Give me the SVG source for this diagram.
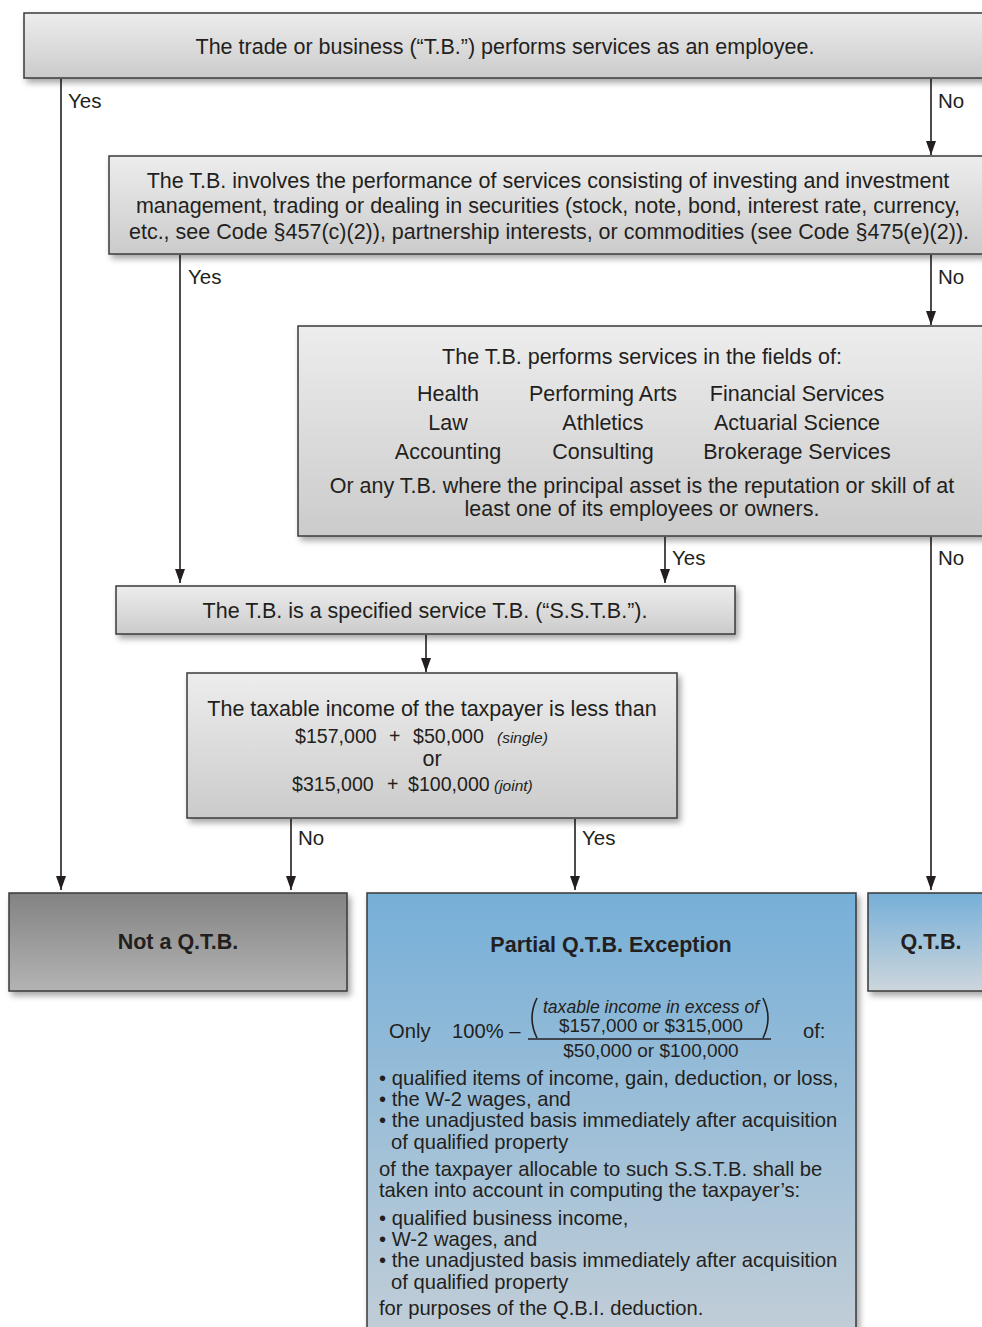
<svg xmlns="http://www.w3.org/2000/svg" width="982" height="1327" viewBox="0 0 982 1327">
<defs>
<linearGradient id="gGray" x1="0" y1="0" x2="0" y2="1"><stop offset="0" stop-color="#ededed"/><stop offset="1" stop-color="#cbcbcb"/></linearGradient>
<linearGradient id="gDark" x1="0" y1="0" x2="0" y2="1"><stop offset="0" stop-color="#838383"/><stop offset="1" stop-color="#b4b4b4"/></linearGradient>
<linearGradient id="gBlue" x1="0" y1="0" x2="0" y2="1"><stop offset="0" stop-color="#76afd8"/><stop offset="1" stop-color="#c3ced7"/></linearGradient>
<linearGradient id="gBlueL" x1="0" y1="0" x2="0" y2="1"><stop offset="0" stop-color="#76afd8"/><stop offset="1" stop-color="#cdd6dc"/></linearGradient>
<filter id="sh" x="-10%" y="-10%" width="130%" height="140%"><feDropShadow dx="3" dy="4" stdDeviation="3" flood-color="#000" flood-opacity="0.35"/></filter>
<marker id="ah" viewBox="0 0 14 10" refX="14" refY="5" markerWidth="14" markerHeight="10" markerUnits="userSpaceOnUse" orient="auto"><path d="M0,0 L14,5 L0,10 Z" fill="#231f20"/></marker>
<style>
text{font-family:"Liberation Sans",Arial,sans-serif;fill:#231f20}
.t{font-size:21.5px}
.n{font-size:19.6px}
.l{font-size:20.5px}
.m{text-anchor:middle}
.b{font-weight:bold}
.s{font-size:20.2px}
.i{font-style:italic;font-size:15.5px}
.box{stroke:#3a3a3a;stroke-width:1.5;filter:url(#sh)}
.cn{stroke:#231f20;stroke-width:1.6;fill:none}
</style>
</defs>
<rect width="982" height="1327" fill="#fff"/>
<g id="connectors">
<line class="cn" x1="61" y1="79" x2="61" y2="890" marker-end="url(#ah)"/>
<line class="cn" x1="931" y1="79" x2="931" y2="155" marker-end="url(#ah)"/>
<line class="cn" x1="180" y1="255" x2="180" y2="583" marker-end="url(#ah)"/>
<line class="cn" x1="931" y1="255" x2="931" y2="325" marker-end="url(#ah)"/>
<line class="cn" x1="665" y1="537" x2="665" y2="583" marker-end="url(#ah)"/>
<line class="cn" x1="931" y1="537" x2="931" y2="890" marker-end="url(#ah)"/>
<line class="cn" x1="426" y1="635" x2="426" y2="672" marker-end="url(#ah)"/>
<line class="cn" x1="291" y1="819" x2="291" y2="890" marker-end="url(#ah)"/>
<line class="cn" x1="575" y1="819" x2="575" y2="890" marker-end="url(#ah)"/>
<text class="l" x="68" y="108">Yes</text>
<text class="l" x="938" y="108">No</text>
<text class="l" x="188" y="284">Yes</text>
<text class="l" x="938" y="284">No</text>
<text class="l" x="672" y="565">Yes</text>
<text class="l" x="938" y="565">No</text>
<text class="l" x="298" y="845">No</text>
<text class="l" x="582" y="845">Yes</text>
</g>
<g id="n1">
<rect class="box" x="24" y="13" width="980" height="65" fill="url(#gGray)"/>
<text class="t m" x="505" y="54">The trade or business (“T.B.”) performs services as an employee.</text>
</g>
<g id="n2">
<rect class="box" x="109" y="156" width="895" height="98" fill="url(#gGray)"/>
<text class="t m" x="548" y="188">The T.B. involves the performance of services consisting of investing and investment</text>
<text class="t m" x="548" y="213">management, trading or dealing in securities (stock, note, bond, interest rate, currency,</text>
<text class="t m" x="549" y="239">etc., see Code §457(c)(2)), partnership interests, or commodities (see Code §475(e)(2)).</text>
</g>
<g id="n3">
<rect class="box" x="298" y="326" width="706" height="210" fill="url(#gGray)"/>
<text class="t m" x="642" y="364">The T.B. performs services in the fields of:</text>
<text class="t m" x="448" y="401">Health</text>
<text class="t m" x="603" y="401">Performing Arts</text>
<text class="t m" x="797" y="401">Financial Services</text>
<text class="t m" x="448" y="430">Law</text>
<text class="t m" x="603" y="430">Athletics</text>
<text class="t m" x="797" y="430">Actuarial Science</text>
<text class="t m" x="448" y="459">Accounting</text>
<text class="t m" x="603" y="459">Consulting</text>
<text class="t m" x="797" y="459">Brokerage Services</text>
<text class="t m" x="642" y="493">Or any T.B. where the principal asset is the reputation or skill of at</text>
<text class="t m" x="642" y="516">least one of its employees or owners.</text>
</g>
<g id="n4">
<rect class="box" x="116" y="586" width="619" height="48" fill="url(#gGray)"/>
<text class="t m" x="425" y="618">The T.B. is a specified service T.B. (“S.S.T.B.”).</text>
</g>
<g id="n5">
<rect class="box" x="187" y="673" width="490" height="145" fill="url(#gGray)"/>
<text class="t m" x="432" y="716">The taxable income of the taxpayer is less than</text>
<text class="n" y="743"><tspan x="295">$157,000</tspan><tspan x="389">+</tspan><tspan x="413">$50,000</tspan><tspan class="i" x="497">(single)</tspan></text>
<text class="t m" x="432" y="766">or</text>
<text class="n" y="791"><tspan x="292">$315,000</tspan><tspan x="387">+</tspan><tspan x="408">$100,000</tspan><tspan class="i" x="494">(joint)</tspan></text>
</g>
<g id="n6">
<rect class="box" x="9" y="893" width="338" height="98" fill="url(#gDark)"/>
<text class="t b m" x="178" y="949">Not a Q.T.B.</text>
</g>
<g id="n7">
<rect class="box" x="367" y="893" width="489" height="450" fill="url(#gBlue)"/>
<text class="t b m" x="611" y="952">Partial Q.T.B. Exception</text>
<text class="s" x="389" y="1038">Only</text>
<text class="s" x="452" y="1038">100% –</text>
<path d="M537,998 Q527,1018 537,1038" stroke="#231f20" stroke-width="1.6" fill="none"/>
<path d="M763,998 Q773,1018 763,1038" stroke="#231f20" stroke-width="1.6" fill="none"/>
<text class="m" x="651" y="1013" style="font-size:17.6px;font-style:italic">taxable income in excess of</text>
<text class="m" x="651" y="1032" style="font-size:18.8px">$157,000 or $315,000</text>
<line x1="528" y1="1039" x2="771" y2="1039" stroke="#231f20" stroke-width="1.6"/>
<text class="m" x="651" y="1057" style="font-size:19px">$50,000 or $100,000</text>
<text class="s" x="803" y="1038">of:</text>
<text class="s" x="379" y="1085">• qualified items of income, gain, deduction, or loss,</text>
<text class="s" x="379" y="1106">• the W-2 wages, and</text>
<text class="s" x="379" y="1127">• the unadjusted basis immediately after acquisition</text>
<text class="s" x="391" y="1149">of qualified property</text>
<text class="s" x="379" y="1176">of the taxpayer allocable to such S.S.T.B. shall be</text>
<text class="s" x="379" y="1197">taken into account in computing the taxpayer’s:</text>
<text class="s" x="379" y="1225">• qualified business income,</text>
<text class="s" x="379" y="1246">• W-2 wages, and</text>
<text class="s" x="379" y="1267">• the unadjusted basis immediately after acquisition</text>
<text class="s" x="391" y="1289">of qualified property</text>
<text class="s" x="379" y="1315">for purposes of the Q.B.I. deduction.</text>
</g>
<g id="n8">
<rect class="box" x="868" y="893" width="136" height="98" fill="url(#gBlueL)"/>
<text class="t b m" x="931" y="949">Q.T.B.</text>
</g>
</svg>
